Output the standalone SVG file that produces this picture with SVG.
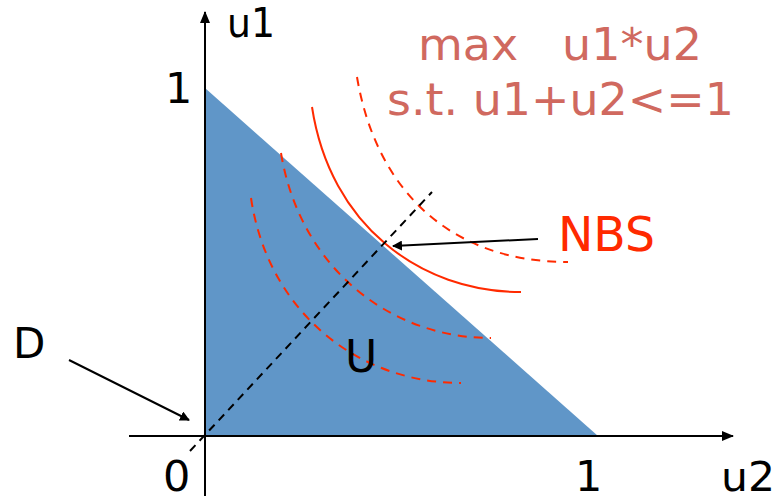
<svg xmlns="http://www.w3.org/2000/svg" width="776" height="497" viewBox="0 0 776 497">
<style>
text{font-family:"DejaVu Sans","Liberation Sans",sans-serif}
.k{fill:#000}
.f{fill:#d0695f;font-size:44px}
.ax{stroke:#000;stroke-width:2;fill:none}
.red{stroke:#ff2a00;stroke-width:2;fill:none}
.rd{stroke:#ff2a00;stroke-width:2;fill:none;stroke-dasharray:9,7}
.bd{stroke:#000;stroke-width:2;fill:none;stroke-dasharray:8,6}
.ar{stroke:#000;stroke-width:2;fill:none}
</style>
<defs>
<marker id="ah" markerWidth="10" markerHeight="10" refX="9" refY="5" orient="auto" markerUnits="userSpaceOnUse"><path d="M0,0 L10,5 L0,10 z" fill="#000"/></marker>
<marker id="ax" markerWidth="12" markerHeight="10" refX="11" refY="5" orient="auto" markerUnits="userSpaceOnUse"><path d="M0,0 L12,5 L0,10 z" fill="#000"/></marker>
</defs>
<g id="region">
<polygon points="205,88 205,436 598,436" fill="#6096c8"/>
</g>
<g id="axes">
<line class="ax" x1="205" y1="496" x2="205" y2="12" marker-end="url(#ax)"/>
<line class="ax" x1="129" y1="436" x2="733" y2="436" marker-end="url(#ax)"/>
</g>
<g id="curves">
<path class="rd" d="M357,77 C376,190 450,262 568,262"/>
<path class="red" d="M312,107 C330,225 420,292 521,292"/>
<path class="rd" d="M281,153 C300,268 390,338 491,338"/>
<path class="rd" d="M251,198 C268,312 358,383 461,383"/>
</g>
<g id="connectors">
<line class="bd" x1="190" y1="451" x2="432" y2="192"/>
<line class="ar" x1="538" y1="239" x2="393" y2="246" marker-end="url(#ah)"/>
<line class="ar" x1="69" y1="360" x2="189" y2="420" marker-end="url(#ah)"/>
</g>
<g id="labels">
<text class="k" x="227" y="37" font-size="40" textLength="48" lengthAdjust="spacingAndGlyphs">u1</text>
<text class="k" x="165" y="103" font-size="43">1</text>
<text class="k" x="13" y="358" font-size="42">D</text>
<text class="k" x="345" y="372" font-size="44">U</text>
<text class="k" x="163" y="491" font-size="43">0</text>
<text class="k" x="575" y="491" font-size="43">1</text>
<text class="k" x="721" y="491" font-size="40" textLength="54" lengthAdjust="spacingAndGlyphs">u2</text>
<text class="f" x="418" y="60" textLength="284" lengthAdjust="spacingAndGlyphs" xml:space="preserve">max   u1*u2</text>
<text class="f" x="387" y="115" textLength="347" lengthAdjust="spacingAndGlyphs">s.t. u1+u2&lt;=1</text>
<text x="558" y="251" font-size="48" fill="#ff2a00" textLength="97" lengthAdjust="spacingAndGlyphs">NBS</text>
</g>
</svg>
